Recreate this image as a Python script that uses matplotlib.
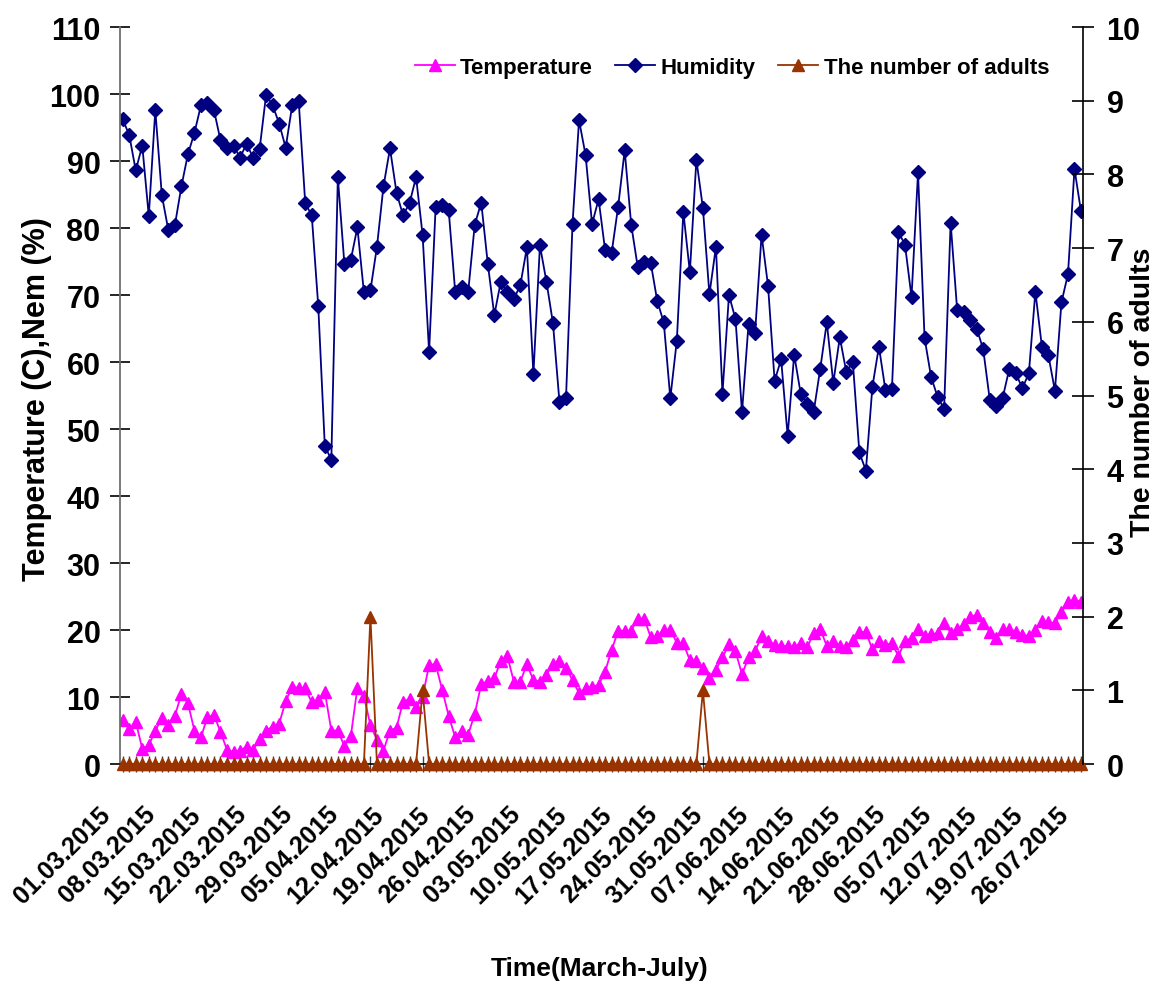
import matplotlib
matplotlib.use("Agg")
import matplotlib.pyplot as plt
from matplotlib.ticker import FixedLocator, MultipleLocator
from matplotlib.transforms import ScaledTranslation

plt.rcParams['font.family'] = ['Liberation Sans', 'DejaVu Sans']
plt.rcParams['font.weight'] = 'bold'

# daily values, 01.03.2015 .. 26.07.2015
humidity = [
    96.2, 93.9, 88.6, 92.3, 81.8, 97.6, 84.9, 79.7, 80.4, 86.2,
    91.0, 94.2, 98.3, 98.6, 97.6, 93.1, 92.0, 92.3, 90.5, 92.6,
    90.5, 91.8, 99.9, 98.3, 95.6, 92.0, 98.3, 98.9, 83.7, 81.9,
    68.3, 47.5, 45.4, 87.6, 74.7, 75.3, 80.1, 70.4, 70.7, 77.2,
    86.2, 91.9, 85.3, 81.9, 83.7, 87.6, 79.0, 61.5, 83.1, 83.5,
    82.7, 70.5, 71.2, 70.5, 80.5, 83.8, 74.7, 67.0, 72.0, 70.5,
    69.4, 71.5, 77.1, 58.2, 77.4, 72.0, 65.8, 54.0, 54.6, 80.6,
    96.1, 90.9, 80.6, 84.3, 76.7, 76.3, 83.2, 91.6, 80.5, 74.2,
    75.0, 74.8, 69.1, 65.9, 54.6, 63.2, 82.4, 73.4, 90.2, 83.0,
    70.1, 77.2, 55.3, 70.0, 66.4, 52.5, 65.7, 64.3, 79.0, 71.3,
    57.2, 60.4, 49.0, 61.1, 55.3, 53.8, 52.6, 59.0, 65.9, 56.9,
    63.7, 58.5, 60.0, 46.5, 43.8, 56.3, 62.3, 55.8, 56.0, 79.4,
    77.5, 69.7, 88.3, 63.6, 57.8, 54.8, 53.0, 80.8, 67.8, 67.4,
    66.2, 65.0, 61.9, 54.4, 53.5, 54.7, 59.0, 58.3, 56.1, 58.3,
    70.5, 62.3, 61.0, 55.7, 68.9, 73.1, 88.8, 82.5,
]

temperature = [
    6.5, 5.2, 6.3, 2.3, 2.8, 5.0, 6.8, 5.8, 7.2, 10.4,
    9.1, 5.0, 4.0, 7.0, 7.3, 4.8, 2.1, 1.8, 2.0, 2.6,
    2.1, 3.8, 5.0, 5.6, 6.0, 9.4, 11.5, 11.4, 11.3, 9.2,
    9.6, 10.8, 5.0, 5.0, 2.7, 4.2, 11.4, 10.1, 5.8, 3.6,
    2.0, 5.0, 5.4, 9.3, 9.7, 8.5, 10.0, 14.8, 14.9, 11.1,
    7.2, 4.0, 4.9, 4.4, 7.5, 11.9, 12.4, 12.8, 15.4, 16.1,
    12.3, 12.3, 14.9, 12.5, 12.3, 13.3, 15.0, 15.4, 14.4, 12.5,
    10.6, 11.3, 11.5, 11.8, 13.8, 17.0, 19.9, 19.9, 19.9, 21.7,
    21.7, 18.9, 19.1, 20.0, 20.0, 18.1, 18.0, 15.5, 15.4, 14.3,
    12.9, 14.1, 15.9, 17.9, 16.8, 13.4, 15.9, 16.8, 19.1, 18.4,
    17.8, 17.6, 17.6, 17.4, 18.1, 17.4, 19.6, 20.2, 17.6, 18.4,
    17.6, 17.4, 18.5, 19.7, 19.7, 17.1, 18.4, 17.8, 18.0, 16.1,
    18.4, 18.8, 20.2, 19.1, 19.4, 19.5, 21.0, 19.6, 20.1, 20.9,
    21.9, 22.3, 21.1, 19.7, 18.8, 20.1, 20.2, 19.7, 19.3, 19.1,
    20.0, 21.3, 21.2, 21.0, 22.7, 24.2, 24.5, 24.2,
]

adults = [
    0, 0, 0, 0, 0, 0, 0, 0, 0, 0,
    0, 0, 0, 0, 0, 0, 0, 0, 0, 0,
    0, 0, 0, 0, 0, 0, 0, 0, 0, 0,
    0, 0, 0, 0, 0, 0, 0, 0, 2, 0,
    0, 0, 0, 0, 0, 0, 1, 0, 0, 0,
    0, 0, 0, 0, 0, 0, 0, 0, 0, 0,
    0, 0, 0, 0, 0, 0, 0, 0, 0, 0,
    0, 0, 0, 0, 0, 0, 0, 0, 0, 0,
    0, 0, 0, 0, 0, 0, 0, 0, 0, 1,
    0, 0, 0, 0, 0, 0, 0, 0, 0, 0,
    0, 0, 0, 0, 0, 0, 0, 0, 0, 0,
    0, 0, 0, 0, 0, 0, 0, 0, 0, 0,
    0, 0, 0, 0, 0, 0, 0, 0, 0, 0,
    0, 0, 0, 0, 0, 0, 0, 0, 0, 0,
    0, 0, 0, 0, 0, 0, 0, 0,
]

date_labels = [
    "01.03.2015", "08.03.2015", "15.03.2015", "22.03.2015", "29.03.2015",
    "05.04.2015", "12.04.2015", "19.04.2015", "26.04.2015", "03.05.2015",
    "10.05.2015", "17.05.2015", "24.05.2015", "31.05.2015", "07.06.2015",
    "14.06.2015", "21.06.2015", "28.06.2015", "05.07.2015", "12.07.2015",
    "19.07.2015", "26.07.2015",
]

days = list(range(len(humidity)))
label_pos = days[::7]

fig = plt.figure(figsize=(11.58, 9.87), dpi=100)
ax = fig.add_axes([0.1036, 0.2249, 0.8316, 0.7467])

l1, = ax.plot(days, temperature, color='#FF00FF', lw=1.3, marker='^',
              ms=8.5, mec='#FF00FF', mfc='#FF00FF', label='Temperature')
l2, = ax.plot(days, humidity, color='#000080', lw=1.3, marker='D',
              ms=7, mec='#000080', mfc='#000080', label='Humidity')

ax2 = ax.twinx()
l3, = ax2.plot(days, adults, color='#993300', lw=1.3, marker='^',
               ms=8.5, mec='#993300', mfc='#993300', label='The number of adults',
               clip_on=False)

ax.set_xlim(-0.42, 147.3)
ax.set_ylim(0, 110)
ax2.set_ylim(0, 10)
ax.yaxis.set_major_locator(MultipleLocator(10))
ax2.yaxis.set_major_locator(MultipleLocator(1))

ax.set_xticks(label_pos, date_labels, rotation=45, ha='right', va='top',
              rotation_mode='anchor', fontsize=18, fontweight='bold')
ax.xaxis.set_minor_locator(FixedLocator(days))
ax.tick_params(axis='x', which='both', direction='inout', length=12,
               width=1, pad=21, color='#404040')
ax.tick_params(axis='y', direction='inout', length=15, width=1.2,
               pad=6.5, labelsize=22)
ax2.tick_params(axis='y', direction='inout', length=16, width=1.2,
                pad=9, labelsize=22)
for lab in ax.get_yticklabels() + ax2.get_yticklabels():
    lab.set_fontweight('bold')
shift = ScaledTranslation(-25 / 100, 0, fig.dpi_scale_trans)
for lab in ax.get_xticklabels():
    lab.set_transform(lab.get_transform() + shift)

for a in (ax, ax2):
    a.spines['top'].set_visible(False)
ax.spines['right'].set_visible(False)
ax2.spines['right'].set_color('black')
ax2.spines['right'].set_linewidth(1.2)
ax.spines['left'].set_color('#707070')
ax.spines['left'].set_linewidth(1.3)
ax.spines['bottom'].set_linewidth(1.2)
ax2.spines['left'].set_visible(False)
ax2.spines['bottom'].set_visible(False)

ax.set_ylabel("Temperature (C),Nem (%)", fontsize=22, fontweight='bold')
ax.yaxis.set_label_coords(-0.071, 0.497)
ax2.set_ylabel("The number of adults", fontsize=20.5, fontweight='bold')
ax2.yaxis.set_label_coords(1.049, 0.506)
ax.set_xlabel("Time(March-July)", fontsize=19, fontweight='bold')
ax.xaxis.set_label_coords(0.498, -0.2605)

fig.legend([l1, l2, l3], ['Temperature', 'Humidity', 'The number of adults'],
           loc='center', bbox_to_anchor=(0.632, 0.931), ncol=3, frameon=False,
           handlelength=1.8, handletextpad=0.25,
           columnspacing=1.0, numpoints=1, prop={'weight': 'bold', 'size': 16})

fig.savefig("out.png", dpi=100)
